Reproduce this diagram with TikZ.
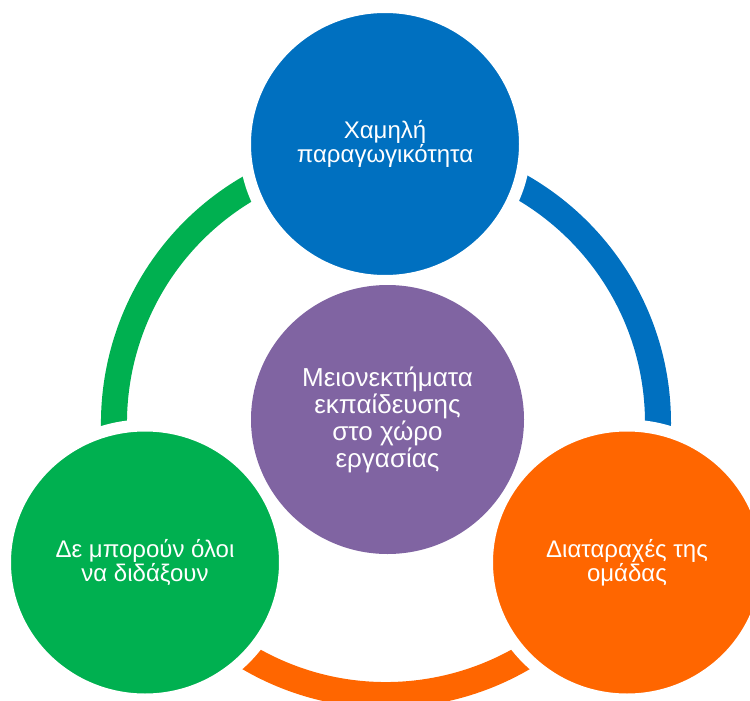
\documentclass[tikz,border=0pt]{standalone}
\usepackage{fontspec}
\setmainfont{Liberation Sans}
\usepackage{xcolor}
\usetikzlibrary{shapes.geometric}

\definecolor{cblue}{HTML}{0070C0}
\definecolor{cgreen}{HTML}{00B050}
\definecolor{corange}{HTML}{FF6600}
\definecolor{cpurple}{HTML}{8064A2}

\begin{document}
\begin{tikzpicture}[x=1pt, y=-1pt,
    bubble/.style={ellipse, fill=#1, draw=white, line width=12pt, minimum width=280pt, minimum height=274pt,
        inner sep=0pt, text=white, align=center, font=\fontsize{24}{22.5}\selectfont},
    band/.style={draw=#1, line width=26pt}]
    \clip (0,0) rectangle (750,701);

    % Ring (drawn first, the bubbles cut its ends)
    \coordinate (ring) at (386,423);
    \foreach \a/\b/\col in {-90/30/cblue, 30/150/corange, 150/270/cgreen} {
        \draw[band=\col] (ring) ++(\a:272) arc[start angle=\a, end angle=\b, radius=272];
    }

    % Outer bubbles
    \node[bubble=cblue] (low) at (385,144) {Χαμηλή\\παραγωγικότητα};
    \node[bubble=cgreen] (teach) at (145,562.5) {Δε μπορούν όλοι\\να διδάξουν};
    \node[bubble=corange] (team) at (627,562.5) {Διαταραχές της\\ομάδας};

    % Center bubble
    \node[bubble=cpurple, draw=none, minimum width=273pt, minimum height=269pt,
        font=\fontsize{26}{27}\selectfont] (hub) at (387.5,419.5) {Μειονεκτήματα\\εκπαίδευσης\\στο χώρο\\εργασίας};
\end{tikzpicture}
\end{document}
